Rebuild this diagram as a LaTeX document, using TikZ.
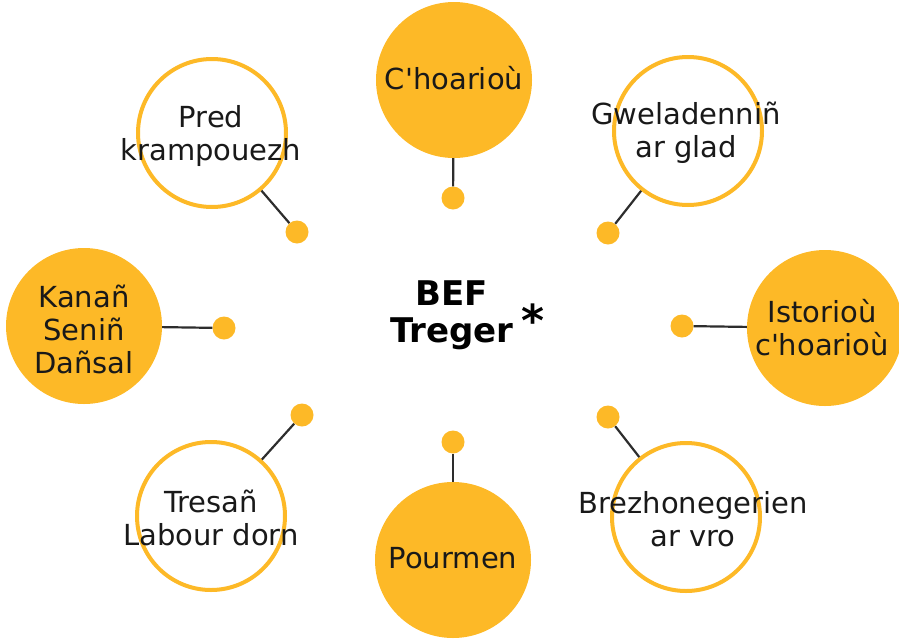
\documentclass[tikz,border=0pt]{standalone}
\usepackage{fontspec}
\setmainfont{DejaVu Sans}[Ligatures=TeXOff]
\definecolor{befyellow}{RGB}{253,185,39}
\definecolor{linkgray}{RGB}{45,45,45}
\tikzset{
  bubble/.style={circle, fill=befyellow, minimum size=156pt, inner sep=0pt},
  ring/.style={circle, draw=befyellow, line width=4pt, fill=white, minimum size=148pt, inner sep=0pt},
  dot/.style={circle, fill=befyellow, minimum size=23pt, inner sep=0pt},
  link/.style={draw=linkgray, line width=2.2pt},
  txt/.style={align=center, inner sep=0pt, text=black!90, font=\fontsize{29}{33}\selectfont}
}
\begin{document}
\begin{tikzpicture}[x=1pt,y=-1pt]
   \useasboundingbox (0,0) rectangle (899,640);
   % circles
   \node[bubble] (choar) at (454,80) {};
   \node[ring] (gwel) at (688,131) {};
   \node[bubble] (istor) at (825,328) {};
   \node[ring] (brezh) at (686,517) {};
   \node[bubble] (pourm) at (453,560) {};
   \node[ring] (tresan) at (211,516) {};
   \node[bubble] (kanan) at (84,326) {};
   \node[ring] (pred) at (212,133) {};
   % dots
   \node[dot] (dchoar) at (453,198) {};
   \node[dot] (dgwel) at (608,233) {};
   \node[dot] (distor) at (682,326) {};
   \node[dot] (dbrezh) at (608,417) {};
   \node[dot] (dpourm) at (453,442) {};
   \node[dot] (dtresan) at (302,415) {};
   \node[dot] (dkanan) at (224,328) {};
   \node[dot] (dpred) at (297,232) {};
   % links
   \foreach \n in {choar,gwel,istor,brezh,pourm,tresan,kanan,pred}
      \draw[link] (\n) -- (d\n);
   % texts
   \node[txt] (tchoar) at (454,78) {C'hoarioù};
   \node[txt] (tgwel) at (686,133) {Gweladenniñ\\ar glad};
   \node[txt] (tistor) at (822,328) {Istorioù\\c'hoarioù};
   \node[txt] (tbrezh) at (693,519) {Brezhonegerien\\ar vro};
   \node[txt] (tpourm) at (453,558) {Pourmen};
   \node[txt] (ttresan) at (211,518) {Tresañ\\Labour dorn};
   \node[txt] (tkanan) at (84,329) {Kanañ\\Seniñ\\Dañsal};
   \node[txt] (tpred) at (211,136) {Pred\\krampouezh};
   % centre
   \node[align=center, inner sep=0pt, font=\bfseries\fontsize{34}{37}\selectfont] (bef) at (452,315) {BEF\\Treger};
   \node[inner sep=0pt, font=\bfseries\fontsize{44}{44}\selectfont] (star) at (533,320) {*};
\end{tikzpicture}
\end{document}
